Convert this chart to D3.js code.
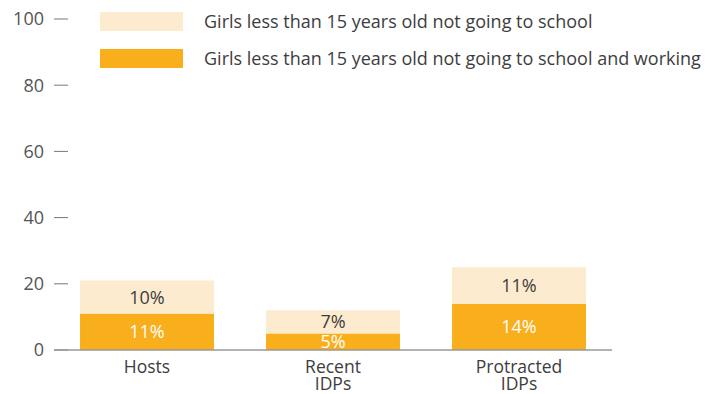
<!DOCTYPE html>
<html><head><meta charset="utf-8">
<script src="https://cdn.jsdelivr.net/npm/d3@7/dist/d3.min.js"></script>
<style>body{margin:0;background:#fff}text{font-family:"Open Sans",sans-serif}</style>
</head><body><svg id="c" width="717" height="394"></svg>
<script>
const categories = [["Hosts"], ["Recent", "IDPs"], ["Protracted", "IDPs"]];
const working = [11, 5, 14];
const notSchool = [10, 7, 11];
const yTicks = [0, 20, 40, 60, 80, 100];
const seriesNames = ["Girls less than 15 years old not going to school", "Girls less than 15 years old not going to school and working"];
const colors = ["#FDEBCF", "#F9AE1B"];

const svg = d3.select("#c");
const keys = categories.map(c => c.join(" "));
const x = d3.scaleBand().domain(keys).range([54, 612]).paddingInner(0.28).paddingOuter(0.14);
const y = d3.scaleLinear().domain([0, 100]).range([350, 19]);

// y ticks
const yt = svg.append("g");
yTicks.forEach(t => {
  yt.append("line").attr("x1", 54).attr("x2", 68).attr("y1", y(t)).attr("y2", y(t))
    .attr("stroke", "#777").attr("stroke-width", 1);
  yt.append("text").attr("x", 44).attr("y", y(t)).attr("dy", "0.35em").attr("text-anchor", "end")
    .attr("font-size", 18).attr("fill", "#555").text(t);
});

// bars
keys.forEach((k, i) => {
  const x0 = x(k), w = x.bandwidth();
  svg.append("rect").attr("x", x0).attr("width", w).attr("y", y(working[i])).attr("height", y(0) - y(working[i])).attr("fill", colors[1]);
  const tot = working[i] + notSchool[i];
  svg.append("rect").attr("x", x0).attr("width", w).attr("y", y(tot)).attr("height", y(working[i]) - y(tot)).attr("fill", colors[0]);
  svg.append("text").attr("x", x0 + w / 2).attr("y", (y(working[i]) + y(0)) / 2).attr("dy", "0.36em")
    .attr("text-anchor", "middle").attr("font-size", 18).attr("fill", "#fff").text(working[i] + "%");
  svg.append("text").attr("x", x0 + w / 2).attr("y", (y(tot) + y(working[i])) / 2).attr("dy", "0.36em")
    .attr("text-anchor", "middle").attr("font-size", 18).attr("fill", "#3d3d3d").text(notSchool[i] + "%");
  const t = svg.append("text").attr("text-anchor", "middle").attr("font-size", 17.5).attr("fill", "#3d3d3d");
  categories[i].forEach((ln, j) => t.append("tspan").attr("x", x0 + w / 2).attr("y", 373 + j * 17).text(ln));
});

// axis line
svg.append("line").attr("x1", 54).attr("x2", 612).attr("y1", y(0)).attr("y2", y(0)).attr("stroke", "#999").attr("stroke-width", 1.5);

// legend
seriesNames.forEach((n, i) => {
  svg.append("rect").attr("x", 100).attr("y", 12 + i * 37).attr("width", 83).attr("height", 19).attr("fill", colors[i]);
  svg.append("text").attr("x", 204).attr("y", 21.5 + i * 37).attr("dy", "0.35em").attr("font-size", 18).attr("fill", "#3d3d3d").text(n);
});
</script></body></html>
